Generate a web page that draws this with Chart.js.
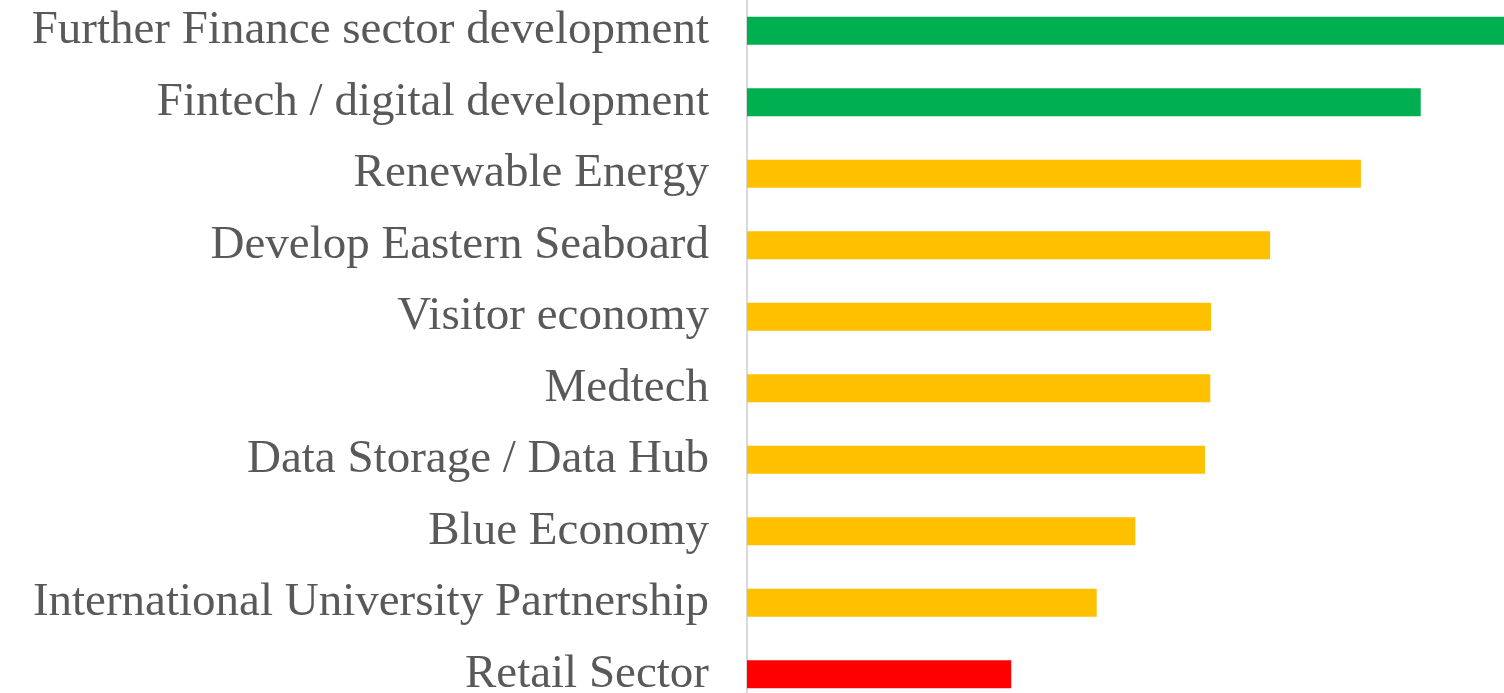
<!DOCTYPE html>
<html>
<head>
<meta charset="utf-8">
<script src="https://cdn.jsdelivr.net/npm/chart.js@4"></script>
<style>
html,body{margin:0;padding:0;background:#fff;overflow:hidden;}
#wrap{position:relative;width:1504px;height:693px;overflow:hidden;}
#box{position:absolute;left:0;top:-5px;width:1504px;height:715px;}
</style>
</head>
<body>
<div id="wrap"><div id="box"><canvas id="c"></canvas></div></div>
<script>
const categories = [
  "Further Finance sector development",
  "Fintech / digital development",
  "Renewable Energy",
  "Develop Eastern Seaboard",
  "Visitor economy",
  "Medtech",
  "Data Storage / Data Hub",
  "Blue Economy",
  "International University Partnership",
  "Retail Sector"
];
const values = [100, 89.0, 81.1, 69.1, 61.3, 61.2, 60.5, 51.3, 46.2, 34.9];
const barColors = ["#00B050","#00B050","#FFC000","#FFC000","#FFC000","#FFC000","#FFC000","#FFC000","#FFC000","#FF0000"];

new Chart(document.getElementById('c'), {
  type: 'bar',
  data: {
    labels: categories,
    datasets: [{
      data: values,
      backgroundColor: barColors,
      borderWidth: 0,
      categoryPercentage: 1,
      barPercentage: 0.395
    }]
  },
  options: {
    indexAxis: 'y',
    responsive: true,
    maintainAspectRatio: false,
    animation: false,
    layout: {padding: 0},
    plugins: {legend: {display: false}, tooltip: {enabled: false}},
    scales: {
      x: {
        display: false,
        min: 0,
        max: 100
      },
      y: {
        afterFit: (s) => { s.width = 747; s.paddingTop = 0; s.paddingBottom = 0; },
        grid: {display: false, drawTicks: false},
        border: {display: true, color: '#d9d9d9', width: 2},
        ticks: {
          padding: 38,
          color: '#595959',
          font: {family: 'Liberation Serif', size: 47}
        }
      }
    }
  }
});
</script>
</body>
</html>
